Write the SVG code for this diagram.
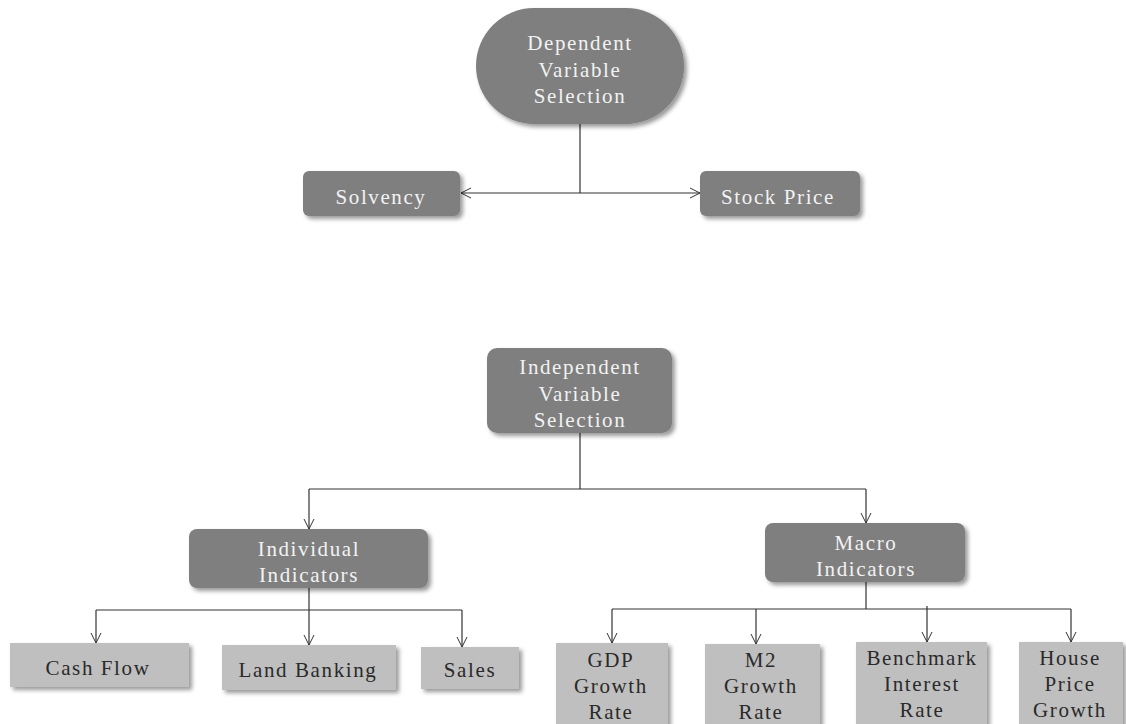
<svg xmlns="http://www.w3.org/2000/svg" width="1126" height="724" viewBox="0 0 1126 724">
<defs>
<filter id="sh" x="-20%" y="-20%" width="140%" height="150%">
<feDropShadow dx="3" dy="3" stdDeviation="2" flood-color="#000" flood-opacity="0.4"/>
</filter>
<marker id="ah" viewBox="0 0 12 12" markerWidth="12" markerHeight="12" refX="11" refY="6" orient="auto" markerUnits="userSpaceOnUse">
<path d="M1,1 L11,6 L1,11" fill="none" stroke="#333" stroke-width="1"/>
</marker>
</defs>
<style>
.dk{fill:#7f7f7f;filter:url(#sh)}
.lt{fill:#bfbfbf;filter:url(#sh)}
text{font-family:"Liberation Serif","DejaVu Serif",serif;font-size:21px;letter-spacing:1.6px;text-anchor:middle}
.tw{fill:#f2f2f2}
.td{fill:#2a2a2a}
.c{fill:none;stroke:#333;stroke-width:1.2}
.a{marker-end:url(#ah)}
</style>
<rect width="1126" height="724" fill="#fff"/>
<g id="connectors">
<path class="c" d="M580,124 V193"/>
<path class="c a" d="M580,193 H461"/>
<path class="c a" d="M580,193 H700"/>
<path class="c" d="M580,433 V489"/>
<path class="c" d="M309,489 H866"/>
<path class="c a" d="M309,489 V529"/>
<path class="c a" d="M866,489 V523"/>
<path class="c a" d="M309,588 V645"/>
<path class="c" d="M96,610 H462"/>
<path class="c a" d="M96,610 V643"/>
<path class="c a" d="M462,610 V647"/>
<path class="c" d="M866,582 V609"/>
<path class="c" d="M612,609 H1071"/>
<path class="c a" d="M612,609 V643"/>
<path class="c a" d="M756,609 V644"/>
<path class="c a" d="M927,606 V642"/>
<path class="c a" d="M1071,609 V642"/>
</g>
<g id="dependent">
<rect class="dk" x="476" y="8" width="208" height="116" rx="58"/>
<text class="tw" x="580" y="50">Dependent</text>
<text class="tw" x="580" y="77">Variable</text>
<text class="tw" x="580" y="103">Selection</text>
</g>
<g id="solvency">
<rect class="dk" x="303" y="171" width="157" height="45" rx="6"/>
<text class="tw" x="381" y="204">Solvency</text>
</g>
<g id="stock-price">
<rect class="dk" x="700" y="171" width="160" height="45" rx="6"/>
<text class="tw" x="778" y="204">Stock Price</text>
</g>
<g id="independent">
<rect class="dk" x="487" y="348" width="185" height="85" rx="10"/>
<text class="tw" x="580" y="374">Independent</text>
<text class="tw" x="580" y="401">Variable</text>
<text class="tw" x="580" y="427">Selection</text>
</g>
<g id="individual">
<rect class="dk" x="189" y="529" width="239" height="59" rx="8"/>
<text class="tw" x="309" y="556">Individual</text>
<text class="tw" x="309" y="582">Indicators</text>
</g>
<g id="macro">
<rect class="dk" x="765" y="523" width="200" height="59" rx="8"/>
<text class="tw" x="866" y="550">Macro</text>
<text class="tw" x="866" y="576">Indicators</text>
</g>
<g id="cash-flow">
<rect class="lt" x="10" y="643" width="179" height="44"/>
<text class="td" x="98" y="675">Cash Flow</text>
</g>
<g id="land-banking">
<rect class="lt" x="222" y="645" width="174" height="45"/>
<text class="td" x="308" y="677">Land Banking</text>
</g>
<g id="sales">
<rect class="lt" x="421" y="647" width="98" height="42"/>
<text class="td" x="470" y="677">Sales</text>
</g>
<g id="gdp">
<rect class="lt" x="556" y="643" width="112" height="90"/>
<text class="td" x="611" y="667">GDP</text>
<text class="td" x="611" y="693">Growth</text>
<text class="td" x="611" y="719">Rate</text>
</g>
<g id="m2">
<rect class="lt" x="705" y="644" width="115" height="90"/>
<text class="td" x="761" y="667">M2</text>
<text class="td" x="761" y="693">Growth</text>
<text class="td" x="761" y="719">Rate</text>
</g>
<g id="benchmark">
<rect class="lt" x="856" y="642" width="131" height="90"/>
<text class="td" x="922" y="665">Benchmark</text>
<text class="td" x="922" y="691">Interest</text>
<text class="td" x="922" y="717">Rate</text>
</g>
<g id="house">
<rect class="lt" x="1019" y="642" width="104" height="90"/>
<text class="td" x="1070" y="665">House</text>
<text class="td" x="1070" y="691">Price</text>
<text class="td" x="1070" y="717">Growth</text>
</g>
</svg>
